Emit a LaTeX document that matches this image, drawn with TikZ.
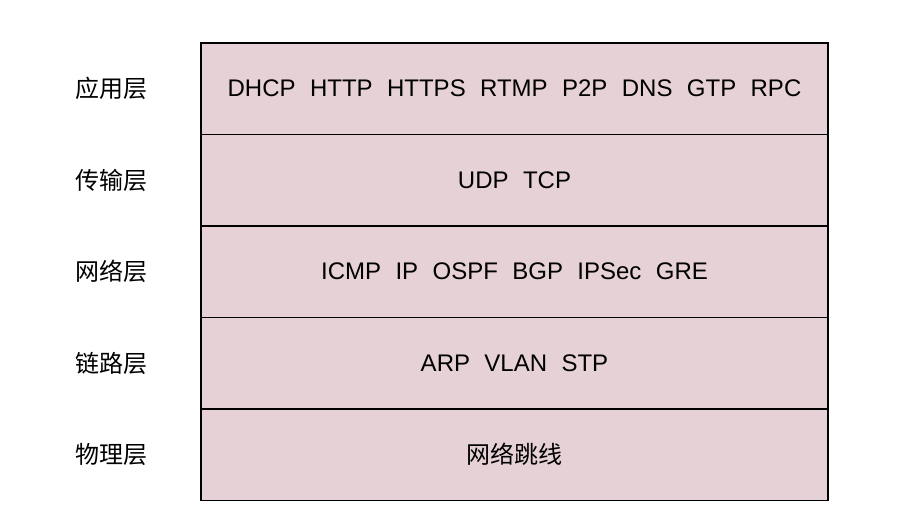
\documentclass[tikz,border=0pt]{standalone}
\usepackage{fontspec}
\setmainfont{Liberation Sans}
\newfontfamily\cjk{Noto Sans CJK SC}
\usetikzlibrary{positioning}
\definecolor{layerfill}{RGB}{229,209,214}
\newcommand{\gap}{\hspace{0.6em}}

\begin{document}
\begin{tikzpicture}[x=0.75pt, y=-0.75pt,
  layer/.style={draw, line width=1.1pt, fill=layerfill, outer sep=0pt, inner sep=0pt,
    minimum width=470pt, minimum height=68.6pt, font=\fontsize{18}{21}\selectfont},
  tag/.style={font=\cjk\fontsize{18}{21}\selectfont}]
  \useasboundingbox (0,0) rectangle (904,530);

  % Layers
  \node[layer] (app) at (514.5,88.7) {DHCP\gap HTTP\gap HTTPS\gap RTMP\gap P2P\gap DNS\gap GTP\gap RPC};
  \node[layer, below=0pt of app] (trans) {UDP\gap TCP};
  \node[layer, below=0pt of trans] (net) {ICMP\gap IP\gap OSPF\gap BGP\gap IPSec\gap GRE};
  \node[layer, below=0pt of net] (link) {ARP\gap VLAN\gap STP};
  \node[layer, below=0pt of link] (phys) {{\cjk 网络跳线}};

  % Layer names
  \node[tag, left=36.5pt of app] (appname) {应用层};
  \node[tag, left=36.5pt of trans] (transname) {传输层};
  \node[tag, left=36.5pt of net] (netname) {网络层};
  \node[tag, left=36.5pt of link] (linkname) {链路层};
  \node[tag, left=36.5pt of phys] (physname) {物理层};
\end{tikzpicture}
\end{document}
